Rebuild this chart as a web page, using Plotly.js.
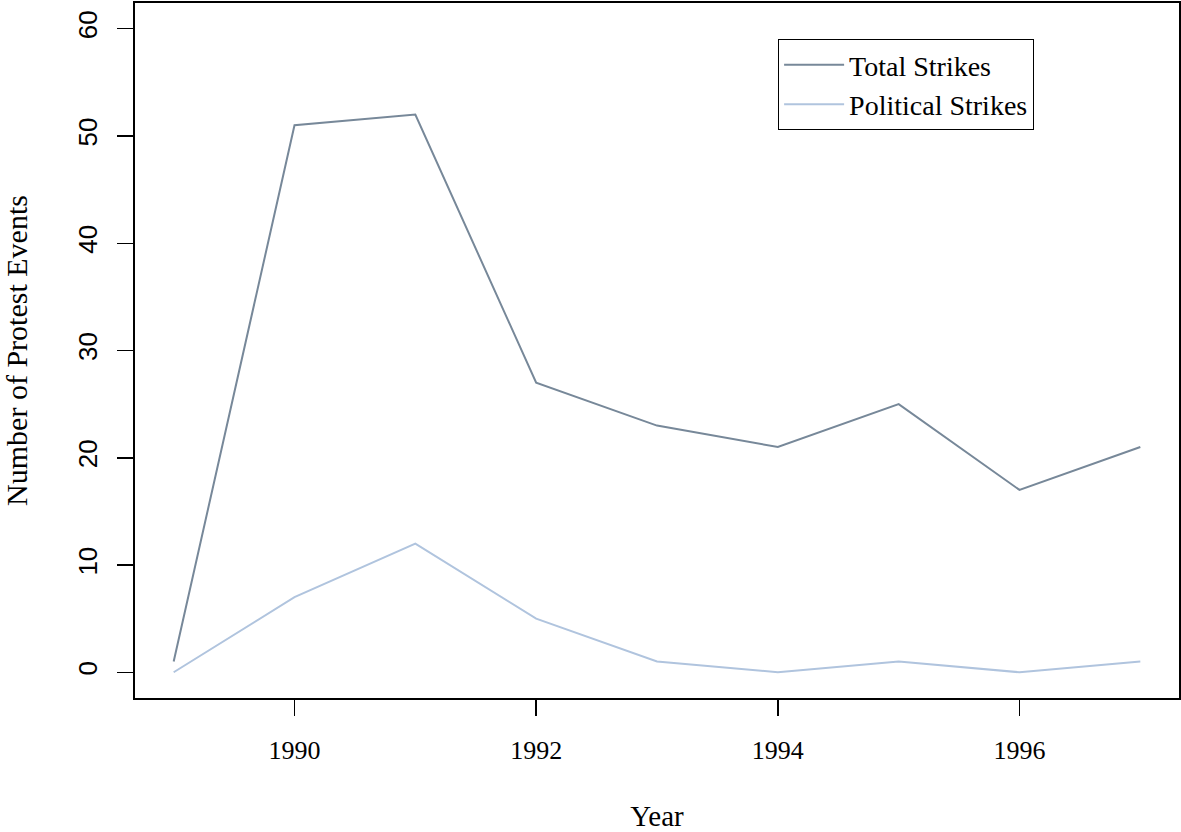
<!DOCTYPE html>
<html>
<head>
<meta charset="utf-8">
<script src="https://cdn.plot.ly/plotly-3.0.1.min.js"></script>
<style>html,body{margin:0;padding:0;background:#fff;}#chart{width:1181px;height:832px;}</style>
</head>
<body>
<div id="chart"></div>
<script>
const years = [1989, 1990, 1991, 1992, 1993, 1994, 1995, 1996, 1997];
const totalStrikes = [1, 51, 52, 27, 23, 21, 25, 17, 21];
const politicalStrikes = [0, 7, 12, 5, 1, 0, 1, 0, 1];
const xTicks = [1990, 1992, 1994, 1996];
const yTicks = [0, 10, 20, 30, 40, 50, 60];

const serif = "Liberation Serif, serif";
const sans = "Liberation Sans, sans-serif";

const traces = [
  {x: years, y: totalStrikes, type: 'scatter', mode: 'lines', name: 'Total Strikes',
   line: {color: '#778899', width: 2}},
  {x: years, y: politicalStrikes, type: 'scatter', mode: 'lines', name: 'Political Strikes',
   line: {color: '#B0C4DE', width: 2}}
];

const layout = {
  width: 1181, height: 832,
  margin: {l: 135, r: 2, t: 3, b: 134},
  paper_bgcolor: '#fff', plot_bgcolor: '#fff',
  showlegend: true,
  legend: {
    x: 0.616, y: 0.948, xanchor: 'left', yanchor: 'top',
    bordercolor: '#000', borderwidth: 1, bgcolor: '#fff',
    font: {family: serif, size: 28, color: '#000'},
    itemwidth: 60,
    entrywidth: 290,
    tracegroupgap: 0
  },
  xaxis: {
    range: [1988.68, 1997.32],
    tickvals: xTicks, ticktext: xTicks.map(String),
    ticks: 'outside', ticklen: 16, tickwidth: 1.5, tickcolor: '#000',
    showline: true, linecolor: '#000', linewidth: 2, mirror: true,
    showgrid: false, zeroline: false,
    tickfont: {family: serif, size: 26, color: '#000'},
    ticklabelstandoff: 12,
    title: {text: 'Year', font: {family: serif, size: 29, color: '#000'}, standoff: 42}
  },
  yaxis: {
    range: [-2.4, 62.4],
    tickvals: yTicks, ticktext: yTicks.map(String),
    ticks: 'outside', ticklen: 16, tickwidth: 1.5, tickcolor: '#000',
    showline: true, linecolor: '#000', linewidth: 2, mirror: true,
    showgrid: false, zeroline: false,
    tickangle: -90,
    tickfont: {family: sans, size: 26, color: '#000'},
    ticklabelstandoff: 10,
    title: {text: 'Number of Protest Events', font: {family: serif, size: 30, color: '#000'}, standoff: 36}
  }
};

Plotly.newPlot('chart', traces, layout, {displayModeBar: false, staticPlot: true});
</script>
</body>
</html>
